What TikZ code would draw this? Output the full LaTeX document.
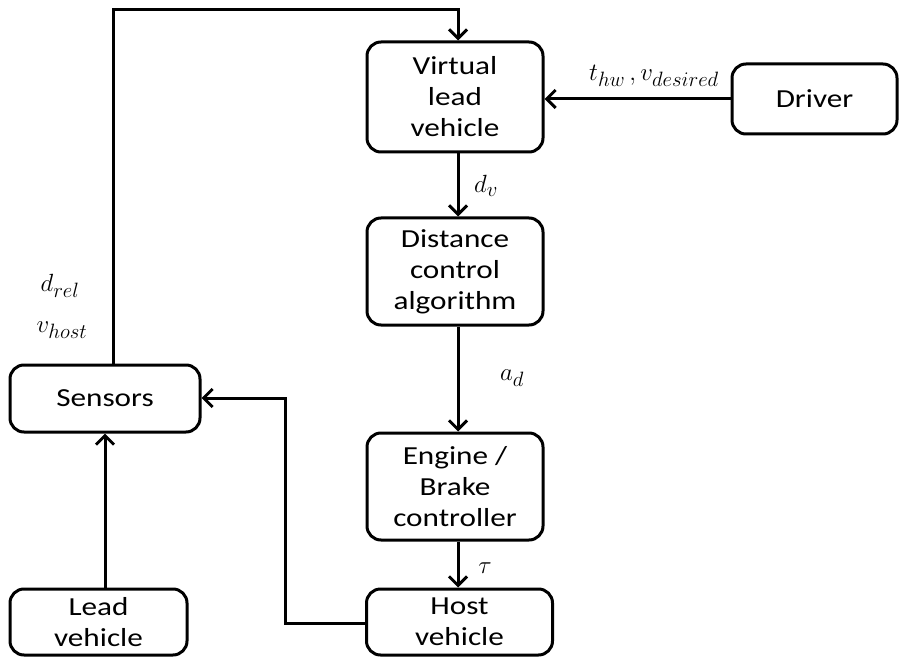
\documentclass[tikz,border=0pt]{standalone}
\usepackage{fontspec}
\setmainfont{Carlito}
\newfontfamily\widefont[FakeStretch=1.2]{Carlito}
\usetikzlibrary{arrows.meta}
\begin{document}
\begin{tikzpicture}[x=1pt,y=-1pt,
  blk/.style={draw,line width=3pt,rounded corners=14pt,align=center,font=\widefont\fontsize{26}{31}\selectfont,inner sep=0pt},
  con/.style={line width=3pt,-{Straight Barb[length=9pt,width=18pt,line width=3pt]}},
  lab/.style={font=\fontsize{28}{30}\selectfont,inner sep=0pt}]
\useasboundingbox (0,0) rectangle (912,660);
\node[blk,minimum width=176pt,minimum height=110pt] (vlv) at (455,97) {Virtual\\lead\\vehicle};
\node[blk,minimum width=165pt,minimum height=70pt] (drv) at (814.5,99) {Driver};
\node[blk,minimum width=176pt,minimum height=107pt] (dca) at (455,271.5) {Distance\\control\\algorithm};
\node[blk,minimum width=176pt,minimum height=107pt] (ebc) at (455,486.5) {Engine /\\Brake\\controller};
\node[blk,minimum width=186pt,minimum height=66pt] (host) at (459.5,622) {Host\\vehicle};
\node[blk,minimum width=177pt,minimum height=66pt] (lead) at (98.5,622) {Lead\\vehicle};
\node[blk,minimum width=190pt,minimum height=67pt] (sen) at (105,398.5) {Sensors};
\coordinate (c1) at (113,10);
\coordinate (c2) at (458,10);
\coordinate (c3) at (285,623);
\coordinate (c4) at (285,398);
\draw[con] (sen.north -| c1) -- (c1) -- (c2) -- (vlv.north -| c2);
\draw[con] (drv.west) -- (vlv.east |- drv.west);
\draw[con] (vlv.south -| c2) -- (dca.north -| c2);
\draw[con] (dca.south -| c2) -- (ebc.north -| c2);
\draw[con] (ebc.south -| c2) -- (host.north -| c2);
\draw[con] (host.west |- c3) -- (c3) -- (c4) -- (sen.east |- c4);
\draw[con] (lead.north -| 105,0) -- (sen.south -| 105,0);
\node[lab] (l1) at (654,76) {$t_{hw}\,,v_{desired}$};
\node[lab] (l2) at (486,186) {$d_v$};
\node[lab] (l3) at (512,378) {$a_d$};
\node[lab] (l4) at (485,568) {$\tau$};
\node[lab] (l5) at (60,286) {$d_{rel}$};
\node[lab] (l6) at (62,330) {$v_{host}$};
\end{tikzpicture}
\end{document}
